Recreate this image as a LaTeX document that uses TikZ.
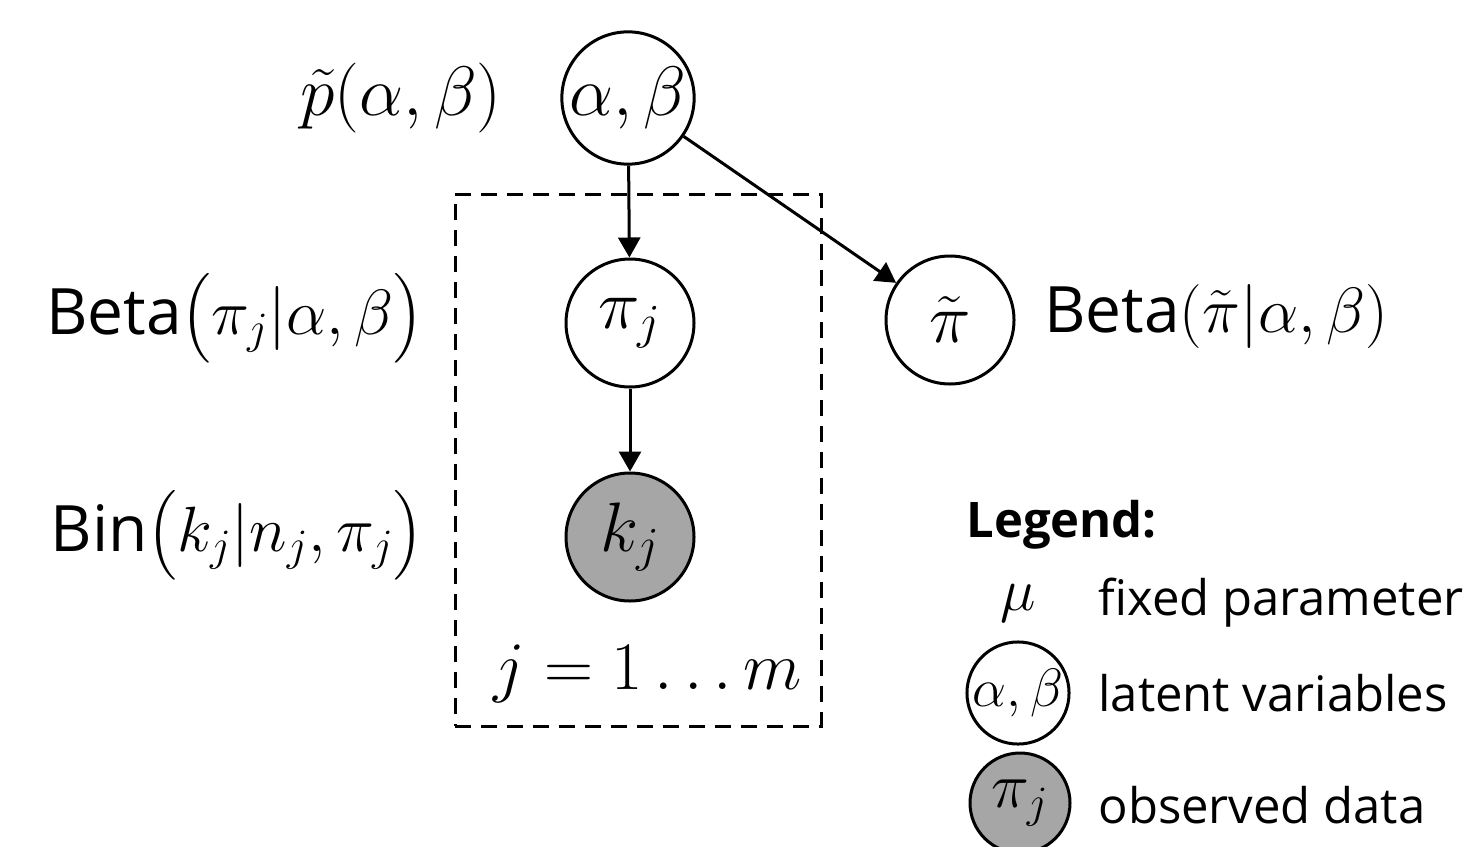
\RequirePackage{fix-cm}
\documentclass[tikz,border=0pt]{standalone}
\usepackage{amsmath}
\usepackage[no-math]{fontspec}
\setmainfont{Open Sans}
\usetikzlibrary{arrows.meta,positioning}
\definecolor{obsGray}{RGB}{166,166,166}
\tikzset{
  latent/.style={circle,draw,line width=1.5pt,fill=white,minimum size=64pt,inner sep=0pt,font=\fontsize{35}{40}\selectfont},
  observed/.style={latent,fill=obsGray},
  smalllatent/.style={latent,minimum size=50pt,font=\fontsize{27}{32}\selectfont},
  smallobserved/.style={smalllatent,fill=obsGray,font=\fontsize{32}{36}\selectfont},
  edge/.style={line width=1.5pt,-{Triangle[length=10pt,width=11pt]}},
  plate/.style={draw,line width=1.5pt,dash pattern=on 8pt off 5pt,inner sep=0pt},
  distlabel/.style={inner sep=0pt,font=\fontsize{32}{38}\selectfont},
  legendtext/.style={inner sep=0pt,anchor=west,font=\fontsize{24.5}{30}\selectfont}
}

\begin{document}
\begin{tikzpicture}[x=0.5pt,y=-0.5pt]
  \useasboundingbox (0,0) rectangle (1476,846);
  % plate
  \node[plate,minimum width=183pt,minimum height=266pt] (plate) at (638,460) {};
  \node[distlabel,anchor=south east,font=\fontsize{34}{40}\selectfont] (range) at ([xshift=-10pt,yshift=12pt]plate.south east) {$j=1\ldots m$};
  % variables
  \node[latent] (ab) at (628,98) {$\alpha,\beta$};
  \node[latent] (pij) at (630,323) {$\pi_j$};
  \node[observed] (kj) at (630,537) {$k_j$};
  \node[latent] (pit) at (950,320) {$\tilde{\pi}$};
  \draw[edge] (ab) -- (pij);
  \draw[edge] (pij) -- (kj);
  \draw[edge] (ab) -- (pit);
  % distributions
  \node[distlabel,anchor=east,font=\fontsize{35}{40}\selectfont] (prior) at (502,98) {$\tilde{p}(\alpha,\beta)$};
  \node[distlabel,anchor=east] (betaj) at (424,318) {Beta$\bigl(\pi_j|\alpha,\beta\bigr)$};
  \node[distlabel,anchor=east] (binj) at (424,535) {Bin$\bigl(k_j|n_j,\pi_j\bigr)$};
  \node[distlabel,anchor=west] (betat) at (1044,316) {Beta$(\tilde{\pi}|\alpha,\beta)$};
  % legend
  \node[legendtext,font=\fontsize{24.5}{30}\selectfont\bfseries] (legend) at (966,525) {Legend:};
  \node[inner sep=0pt,font=\fontsize{30}{36}\selectfont] (fixed) at (1018,603) {$\mu$};
  \node[smalllatent] (lat) at (1018,693) {$\alpha,\beta$};
  \node[smallobserved] (obs) at (1020,803) {$\pi_j$};
  \node[legendtext] (fixedtxt) at (1098,603) {fixed parameter};
  \node[legendtext] (lattxt) at (1098,693) {latent variables};
  \node[legendtext] (obstxt) at (1098,805) {observed data};
\end{tikzpicture}
\end{document}
